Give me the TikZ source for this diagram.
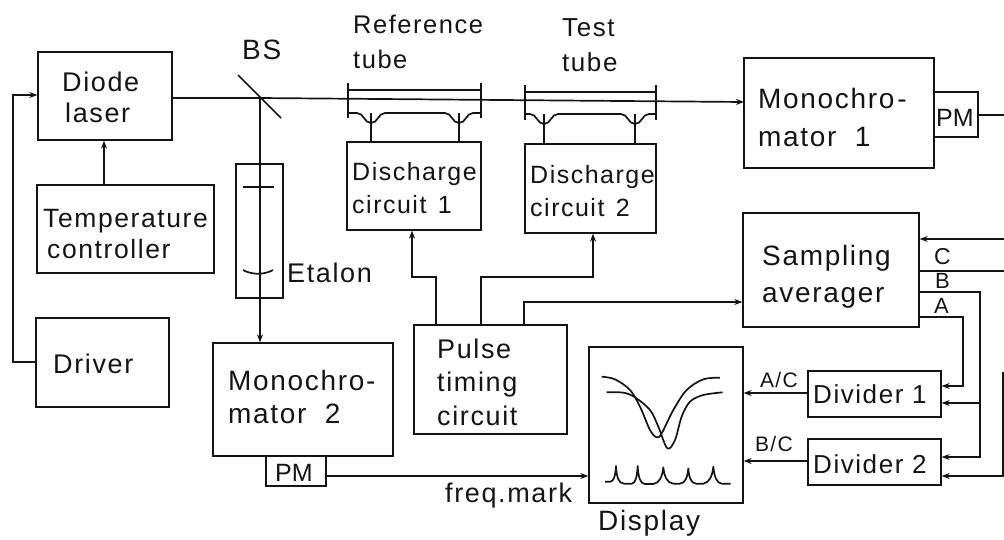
\documentclass[tikz,border=0pt]{standalone}
\usepackage{fontspec}
\setmainfont[LetterSpace=6]{Liberation Sans}
\newfontfamily\pmfont{Liberation Sans}
\usetikzlibrary{arrows.meta}
\newcommand\bx[5]{%
 \pgfmathsetmacro\bw{#4-#2}\pgfmathsetmacro\bh{#5-#3}%
 \pgfmathsetmacro\bcx{(#4+#2)/2}\pgfmathsetmacro\bcy{(#5+#3)/2}%
 \node[boxn,minimum width=\bw pt,minimum height=\bh pt] (#1) at (\bcx,\bcy) {};}
% name, x, baseline of the last line, size, leading, text
\newcommand\tx[6]{\node[inner sep=0pt,text=ink,align=left,anchor=base west,font=\fontsize{#4}{#5}\selectfont] (#1) at (#2,#3) {#6};}
\tikzset{
 boxn/.style={draw=ink,line width=1.3pt,inner sep=0pt},
 ln/.style={draw=ink,line width=1.2pt},
 ar/.style={ln,-{Stealth[length=8pt,width=6pt]}},
 slant/.style={line width=1.7pt},
}
\definecolor{ink}{HTML}{141414}
\begin{document}
\begin{tikzpicture}[x=1pt,y=-1pt]
\useasboundingbox (0,0) rectangle (1004,539);
\bx{laser}{38}{52}{172}{140}
\bx{temp}{37}{185}{214}{273}
\bx{drv}{36}{318}{169}{407}
\bx{dc1}{347}{142}{481}{230}
\bx{dc2}{525}{144}{656}{233}
\bx{mono1}{744}{58}{934}{168}
\bx{pm1}{934}{92}{978}{137}
\bx{samp}{743}{213}{919}{327}
\bx{pulse}{414}{325}{567}{434}
\bx{mono2}{213}{343}{393}{456}
\bx{pm2}{266}{456}{326}{486}
\bx{disp}{589}{347}{743}{503}
\bx{div1}{808}{371}{941}{417}
\bx{div2}{808}{439}{941}{485}
\bx{etalon}{236}{164}{283}{298}
% labels
\tx{tLaser}{62}{122}{27}{31}{Diode\\\hspace*{3pt}laser}
\tx{tTemp}{43}{258}{26.5}{31}{Temperature\\\hspace*{4pt}controller}
\tx{tDrv}{53}{373}{27}{31}{Driver}
\tx{tDc1}{352}{213}{25}{33}{Discharge\\circuit\hspace{3pt} 1}
\tx{tDc2}{530}{216}{25}{33}{Discharge\\circuit\hspace{3pt} 2}
\tx{tMono1}{758}{146}{28}{38}{Monochro\hspace{3pt}-\\mator\hspace{9pt} 1}
\tx{tPm1}{936}{126}{25}{25}{\pmfont PM}
\tx{tSamp}{762}{302}{28}{37}{Sampling\\averager}
\tx{tPulse}{437}{425}{27}{33.5}{Pulse\\timing\\circuit}
\tx{tMono2}{228}{423}{28}{33}{Monochro-\\mator\hspace{9pt} 2}
\tx{tPm2}{275}{481}{25}{25}{\pmfont PM}
\tx{tDiv1}{813}{403}{26}{26}{Divider 1}
\tx{tDiv2}{813}{473}{26}{26}{Divider 2}
\tx{tBS}{242}{59}{28}{28}{BS}
\tx{tRef}{353}{68}{25.5}{35}{Reference\\tube}
\tx{tTest}{562}{71}{26}{35}{Test\\tube}
\tx{tEt}{287}{282}{27}{27}{Etalon}
\tx{tfm}{445}{502}{27}{27}{freq.mark}
\tx{tDisp}{598}{530}{28}{28}{Display}
\tx{tC}{934}{264}{23}{23}{C}
\tx{tB}{935}{288}{22}{22}{B}
\tx{tA}{934}{313}{22}{22}{A}
\tx{tAC}{760}{387}{21}{21}{A/C}
\tx{tBC}{755}{451}{21}{21}{B/C}
% mirror and beam
\coordinate (m1) at (238,75);
\coordinate (m2) at (281,118);
\coordinate (bs) at (260,98);
\coordinate (mi) at (744,102);
\draw[ln,slant] (m1) -- (m2);
\draw[ar,slant] (laser.east |- bs) -- (bs) -- (mi);
\draw[ar] (bs) -- (mono2.north -| bs);
% etalon plates
\coordinate (e1) at (243,187);
\coordinate (e2) at (274,187);
\coordinate (e3) at (243,270);
\coordinate (e4) at (273,270);
\draw[ln] (e1) -- (e2);
\draw[ln,slant] (e3) .. controls (252,275) and (264,275) .. (e4);
% tubes
\foreach \nm/\xa/\xb/\ya/\yt/\yb/\ea/\eb/\bt in {r/348/481/83/90/113/371/459/142,t/525/656/85/92/114/544/635/144}{
 \draw[ln] (\xa,\ya) -- (\xa,\ya+35);
 \draw[ln] (\xb,\ya) -- (\xb,\ya+35);
 \draw[ln] (\xa,\yt) -- (\xb,\yt);
 \draw[ln,slant] (\xa,\yb) -- (\ea-14,\yb) .. controls (\ea-7,\yb) and (\ea-7,\yb+10) .. (\ea,\yb+10)
   .. controls (\ea+7,\yb+10) and (\ea+7,\yb) .. (\ea+14,\yb) -- (\eb-14,\yb)
   .. controls (\eb-7,\yb) and (\eb-7,\yb+10) .. (\eb,\yb+10)
   .. controls (\eb+7,\yb+10) and (\eb+7,\yb) .. (\eb+14,\yb) -- (\xb,\yb);
 \draw[ln] (\ea,\yb) -- (\ea,\bt);
 \draw[ln] (\eb,\yb) -- (\eb,\bt);
}
% left side
\coordinate (tu) at (104,185);
\draw[ar] (temp.north -| tu) -- (laser.south -| tu);
\coordinate (lx) at (13,362);
\coordinate (ly) at (13,95);
\draw[ar] (drv.west |- lx) -- (lx) -- (ly) -- (laser.west |- ly);
% pulse connections
\coordinate (p1) at (436,277);
\coordinate (p2) at (412,277);
\draw[ar] (pulse.north -| p1) -- (p1) -- (p2) -- (dc1.south -| p2);
\coordinate (p3) at (481,277);
\coordinate (p4) at (593,277);
\draw[ar] (pulse.north -| p3) -- (p3) -- (p4) -- (dc2.south -| p4);
\coordinate (p5) at (524,302);
\draw[ar] (pulse.north -| p5) -- (p5) -- (samp.west |- p5);
% right side
\coordinate (rt) at (1004,239);
\coordinate (rc) at (1004,271);
\coordinate (pmo) at (1004,115);
\draw[ln] (pm1.east |- pmo) -- (pmo);
\draw[ar] (rt) -- (samp.east |- rt);
\draw[ln] (samp.east |- rc) -- (rc);
\coordinate (bb) at (980,292);
\coordinate (b1) at (980,403);
\coordinate (b2) at (980,457);
\draw[ar] (samp.east |- bb) -- (bb) -- (b2) -- (div2.east |- b2);
\draw[ar] (b1) -- (div1.east |- b1);
\coordinate (aa) at (963,317);
\coordinate (a2) at (963,386);
\draw[ar] (samp.east |- aa) -- (aa) -- (a2) -- (div1.east |- a2);
\coordinate (ct) at (1003,372);
\coordinate (cb) at (1003,476);
\draw[ar] (ct) -- (cb) -- (div2.east |- cb);
% divider to display
\coordinate (d1) at (743,393);
\coordinate (d2) at (743,461);
\draw[ar] (div1.west |- d1) -- (disp.east |- d1);
\draw[ar] (div2.west |- d2) -- (disp.east |- d2);
\coordinate (f) at (326,476);
\draw[ar] (pm2.east |- f) -- (disp.west |- f);
% traces
\begin{scope}[shift={(560,340)},x=0.3333pt,y=-0.3333pt]
\draw[ln,slant,line join=round] plot[smooth,tension=.55] coordinates {(125,110)(165,118)(210,150)(240,200)(270,270)(290,292)(305,280)(340,210)(380,150)(430,118)(480,113)};
\draw[ln,slant,line join=round] plot[smooth,tension=.55] coordinates {(140,157)(190,158)(225,172)(270,210)(295,260)(322,325)(345,300)(365,230)(390,185)(430,165)(488,157)};
\draw[ln,slant,line join=round] (135,425) -- (150,425) .. controls (160,425) and (166,412) .. (168,378) .. controls (170,412) and (176,431) .. (192,431) -- (215,431) .. controls (226,431) and (231,412) .. (233,378) .. controls (235,412) and (241,432) .. (255,432) -- (280,432) .. controls (298,430) and (307,410) .. (310,382) .. controls (313,410) and (322,430) .. (340,431) -- (360,431) .. controls (375,430) and (383,412) .. (385,385) .. controls (387,412) and (393,430) .. (408,431) -- (430,431) .. controls (447,428) and (457,410) .. (460,380) .. controls (463,410) and (470,430) .. (485,431) -- (512,431);
\end{scope}
\end{tikzpicture}
\end{document}
